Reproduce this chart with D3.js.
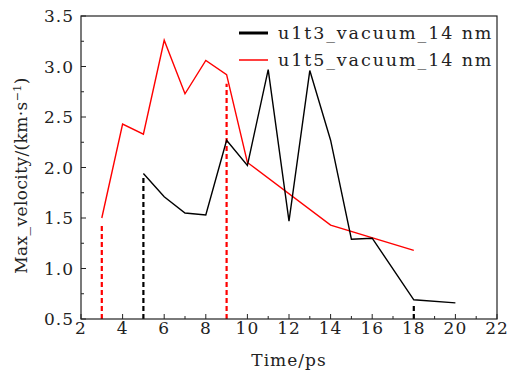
<!DOCTYPE html>
<html lang="en">
<head>
<meta charset="UTF-8">
<title>Max velocity</title>
<script src="https://d3js.org/d3.v7.min.js"></script>
<style>
  body {margin: 0; background: #fff;}
  svg text {font-family: "DejaVu Serif", "Liberation Serif", serif; fill: #222;}
  .tick-label {font-size: 17px; letter-spacing: 1px;}
  .axis-title {font-size: 17px; letter-spacing: 1px;}
  .y-title {font-size: 17px; letter-spacing: 0.4px;}
  .legend-label {font-size: 17.5px; letter-spacing: 1.9px;}
</style>
</head>
<body>
<div id="chart"></div>
<script>
// u1t3_vacuum_14 nm (black)
const timeA = [5, 6, 7, 8, 9, 10, 11, 12, 13, 14, 15, 16, 18, 20];
const velA = [1.94, 1.71, 1.55, 1.53, 2.27, 2.02, 2.97, 1.47, 2.96, 2.27, 1.29, 1.30, 0.69, 0.66];
// u1t5_vacuum_14 nm (red)
const timeB = [3, 4, 5, 6, 7, 8, 9, 10, 14, 18];
const velB = [1.50, 2.43, 2.33, 3.26, 2.73, 3.06, 2.92, 2.05, 1.43, 1.18];
// dashed drop markers: time, top value, series
const dropTimes = [3, 5, 9, 18];
const dropTops = [1.45, 1.90, 2.83, 0.65];
const dropSeries = ["B", "A", "B", "A"];

const seriesNames = ["u1t3_vacuum_14 nm", "u1t5_vacuum_14 nm"];
const colors = {A: "#000", B: "#ff0000"};

const xTicks = [2, 4, 6, 8, 10, 12, 14, 16, 18, 20, 22];
const yTicks = [0.5, 1.0, 1.5, 2.0, 2.5, 3.0, 3.5];

const width = 513, height = 374;
const margin = {top: 16, right: 16, bottom: 55, left: 81};

const svg = d3.select("#chart").append("svg")
  .attr("width", width).attr("height", height);

const x = d3.scaleLinear().domain([2, 22]).range([margin.left, width - margin.right]);
const y = d3.scaleLinear().domain([0.5, 3.5]).range([height - margin.bottom, margin.top]);

// ticks (inside)
const xMinor = d3.range(3, 22, 2);
const yMinor = d3.range(0.75, 3.5, 0.5);
const g = svg.append("g");
g.selectAll(".xmaj").data(xTicks).enter().append("line")
  .attr("x1", d => x(d)).attr("x2", d => x(d))
  .attr("y1", y(0.5)).attr("y2", y(0.5) - 5)
  .attr("stroke", "#222").attr("stroke-width", 1);
g.selectAll(".xmin").data(xMinor).enter().append("line")
  .attr("x1", d => x(d)).attr("x2", d => x(d))
  .attr("y1", y(0.5)).attr("y2", y(0.5) - 3)
  .attr("stroke", "#222").attr("stroke-width", 1);
g.selectAll(".ymaj").data(yTicks).enter().append("line")
  .attr("x1", x(2)).attr("x2", x(2) + 5)
  .attr("y1", d => y(d)).attr("y2", d => y(d))
  .attr("stroke", "#222").attr("stroke-width", 1);
g.selectAll(".ymin").data(yMinor).enter().append("line")
  .attr("x1", x(2)).attr("x2", x(2) + 3)
  .attr("y1", d => y(d)).attr("y2", d => y(d))
  .attr("stroke", "#222").attr("stroke-width", 1);

g.selectAll(".xl").data(xTicks).enter().append("text")
  .attr("class", "tick-label")
  .attr("x", d => x(d)).attr("y", y(0.5) + 15)
  .attr("text-anchor", "middle").text(d => d);
g.selectAll(".yl").data(yTicks).enter().append("text")
  .attr("class", "tick-label")
  .attr("x", x(2) - 7).attr("y", d => y(d) + 6)
  .attr("text-anchor", "end").text(d => d.toFixed(1));

// dashed drops
svg.selectAll(".drop").data(dropTimes).enter().append("line")
  .attr("x1", d => x(d)).attr("x2", d => x(d))
  .attr("y1", y(0.5)).attr("y2", (d, i) => y(dropTops[i]))
  .attr("stroke", (d, i) => colors[dropSeries[i]])
  .attr("stroke-width", 2.2)
  .attr("stroke-dasharray", "5,3");

const line = d3.line().x(d => x(d[0])).y(d => y(d[1]));
svg.append("path").datum(timeB.map((t, i) => [t, velB[i]]))
  .attr("d", line).attr("fill", "none")
  .attr("stroke", colors.B).attr("stroke-width", 1.4);
svg.append("path").datum(timeA.map((t, i) => [t, velA[i]]))
  .attr("d", line).attr("fill", "none")
  .attr("stroke", colors.A).attr("stroke-width", 1.4);

// frame
svg.append("rect")
  .attr("x", x(2)).attr("y", y(3.5))
  .attr("width", x(22) - x(2)).attr("height", y(0.5) - y(3.5))
  .attr("fill", "none").attr("stroke", "#222").attr("stroke-width", 1.2);

// legend
const legend = svg.append("g");
[["A", 0], ["B", 1]].forEach(([k, i]) => {
  const ly = 33 + i * 27;
  legend.append("line")
    .attr("x1", 239).attr("x2", 268).attr("y1", ly).attr("y2", ly)
    .attr("stroke", colors[k]).attr("stroke-width", k === "A" ? 3 : 1.5);
  legend.append("text").attr("class", "legend-label")
    .attr("x", 278).attr("y", ly + 6).text(seriesNames[i]);
});

// axis titles
svg.append("text").attr("class", "axis-title")
  .attr("x", 289).attr("y", 366)
  .attr("text-anchor", "middle").text("Time/ps");
svg.append("text").attr("class", "y-title")
  .attr("transform", `translate(27, ${(y(0.5) + y(3.5)) / 2 + 8}) rotate(-90)`)
  .attr("text-anchor", "middle")
  .html('Max_velocity/(km·s<tspan dy="-6" font-size="11">−1</tspan><tspan dy="6">)</tspan>');
</script>
</body>
</html>
